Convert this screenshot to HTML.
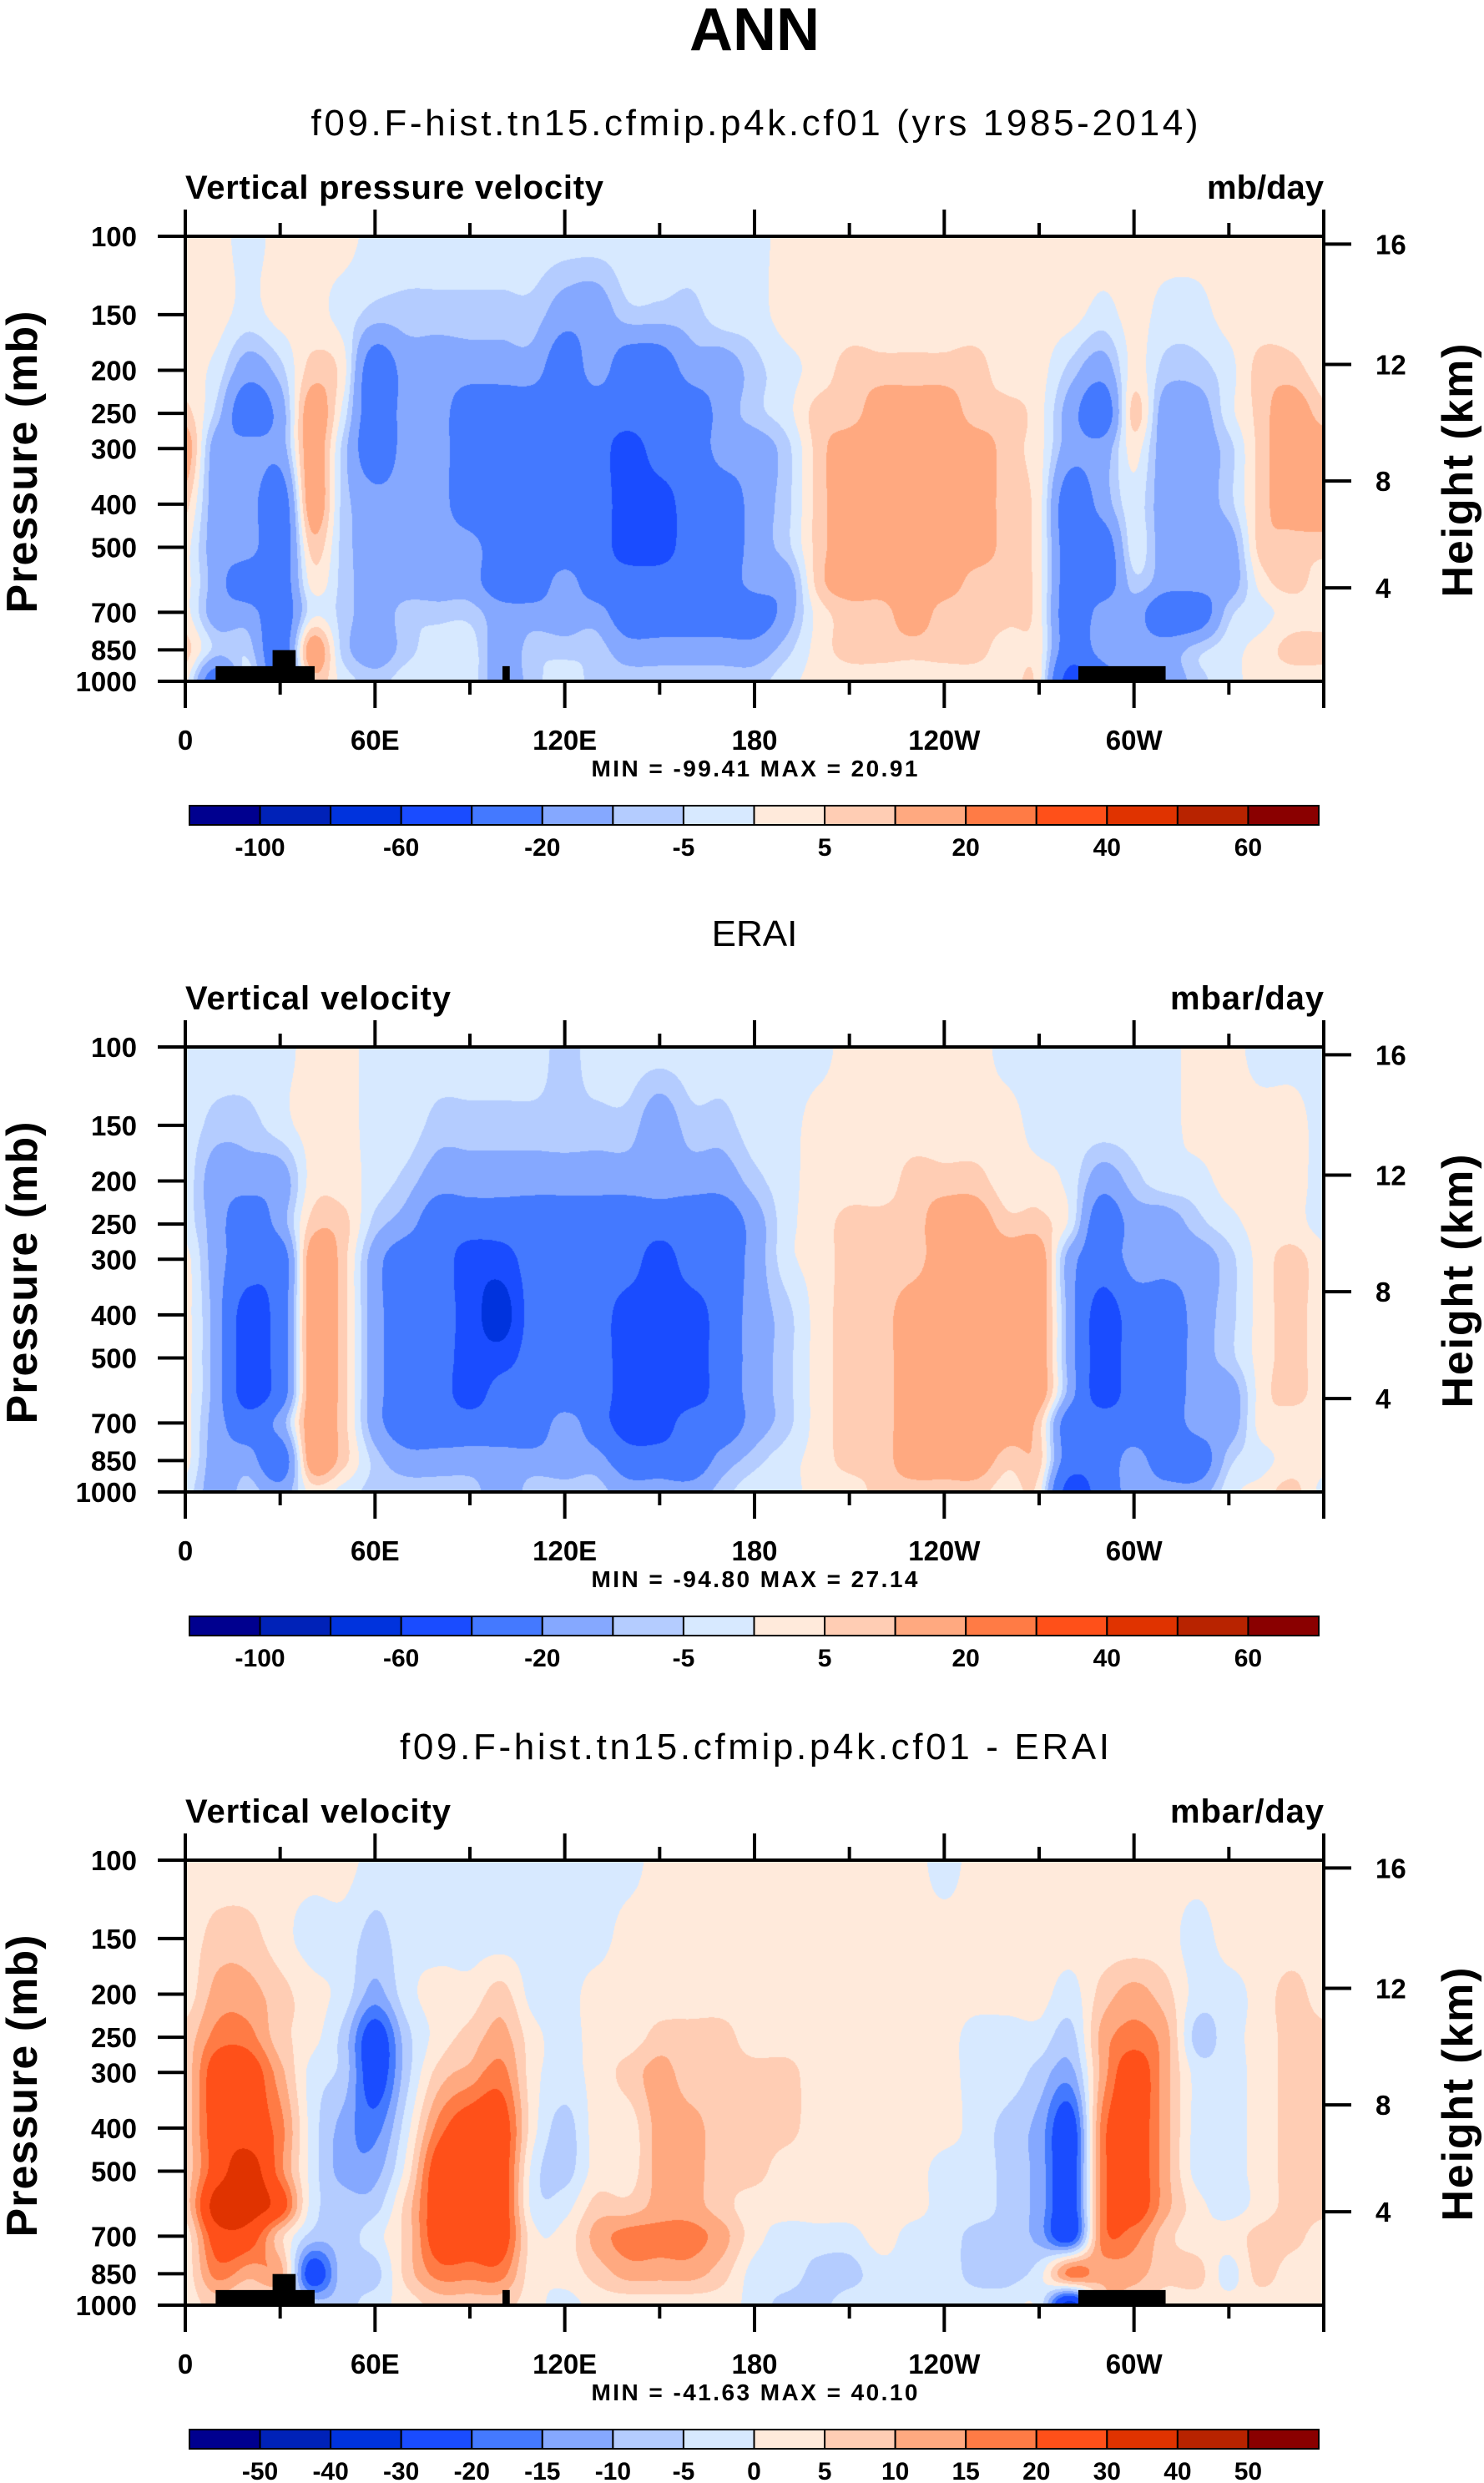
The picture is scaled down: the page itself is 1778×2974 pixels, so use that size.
<!DOCTYPE html>
<html><head><meta charset="utf-8">
<style>
html,body{margin:0;padding:0;background:#fff;}
#wrap{position:relative;width:1778px;height:2974px;overflow:hidden;background:#fff;font-family:"Liberation Sans",sans-serif;}
canvas{position:absolute;}
svg{position:absolute;left:0;top:0;}
</style></head>
<body>
<div id="wrap">
<canvas id="c0" width="1364" height="533" style="left:222px;top:283px"></canvas>
<canvas id="c1" width="1364" height="533" style="left:222px;top:1254px"></canvas>
<canvas id="c2" width="1364" height="533" style="left:222px;top:2228px"></canvas>
<svg id="s" width="1778" height="2974" xmlns="http://www.w3.org/2000/svg"></svg>
</div>
<script>
// ---- data ----
const lons = [0,10,20,30,40,50,60,70,80,90,100,110,120,130,140,150,160,170,180,190,200,210,220,230,240,250,260,270,280,290,300,310,320,330,340,350,360];
const levels = [100,150,200,250,300,400,500,600,700,850,1000];
const pTicks = [100,150,200,250,300,400,500,700,850,1000];
const hTicks = ["16","12","8","4"];
const hTickFrac = [0.0177,0.288,0.55,0.79];
const xTickLabels = ["0","60E","120E","180","120W","60W"];
const xTickLons = [0,60,120,180,240,300];
const colors = ["#00008f","#0022b8","#0033dd","#1a4cff","#4479ff","#85a8ff","#b4ccff","#d7e9ff","#ffeadb","#ffcdb4","#ffa980","#ff7b45","#ff5019","#e03300","#b82300","#8a0000"];
const bounds1 = [-100,-80,-60,-40,-20,-10,-5,0,5,10,20,30,40,50,60];
const cbLabels1 = ["-100","-60","-20","-5","5","20","40","60"];
const bounds3 = [-50,-40,-30,-20,-15,-10,-5,0,5,10,15,20,30,40,50];
const cbLabels3 = ["-50","-40","-30","-20","-15","-10","-5","0","5","10","15","20","30","40","50"];
const landBoxes = [[9.6,40.9,0.966],[27.6,34.9,0.93],[100.3,102.6,0.966],[282.4,310,0.966]];

const modelData = [
[2,2,2,7,15,7,2,2,2,7,2],
[2,2,-2,-7,-15,-15,-15,-15,-15,-7,-30],
[-2,-2,-15,-30,-15,-15,-15,-30,-15,-7,-2],
[2,2,-7,-15,-15,-30,-30,-30,-30,-30,-30],
[2,2,7,15,15,15,7,2,-2,15,7],
[2,-2,2,-2,-7,-7,-7,-7,-7,-7,-2],
[-2,-7,-30,-30,-30,-15,-15,-15,-15,-15,-7],
[-2,-7,-15,-15,-15,-15,-15,-15,-7,-7,-2],
[-2,-7,-15,-15,-15,-15,-15,-15,-7,-2,-2],
[-2,-7,-15,-30,-30,-30,-15,-15,-7,-2,-2],
[-2,-7,-15,-30,-30,-30,-30,-30,-15,-15,-15],
[-2,-7,-15,-30,-30,-30,-30,-30,-15,-7,-7],
[-2,-15,-30,-30,-30,-30,-30,-15,-15,-7,-2],
[-2,-15,-15,-30,-30,-30,-30,-30,-15,-7,-7],
[-2,-7,-30,-30,-50,-50,-50,-30,-30,-15,-7],
[-2,-7,-30,-30,-30,-50,-50,-30,-30,-15,-7],
[-2,-7,-15,-30,-30,-30,-30,-30,-30,-15,-7],
[-2,-2,-15,-15,-15,-30,-30,-30,-30,-15,-7],
[-2,-2,-7,-7,-15,-15,-15,-15,-30,-15,-7],
[2,2,-2,-2,-7,-7,-7,-15,-15,-7,-2],
[2,2,2,7,7,7,7,7,2,2,2],
[2,2,7,7,15,15,15,15,7,7,2],
[2,2,7,15,15,15,15,15,7,7,2],
[2,2,7,15,15,15,15,15,15,7,2],
[2,2,7,15,15,15,15,15,7,7,2],
[2,2,7,7,15,15,15,7,7,7,2],
[2,2,2,7,7,7,7,7,7,2,2],
[2,2,2,2,2,2,2,2,2,2,2],
[2,2,-7,-15,-15,-30,-30,-30,-30,-30,-50],
[2,-2,-15,-30,-15,-15,-30,-30,-15,-15,-30],
[2,2,2,7,2,-2,-2,-7,-15,-15,-7],
[2,-2,-7,-15,-15,-15,-15,-15,-30,-15,-15],
[2,-2,-7,-15,-15,-15,-15,-15,-30,-7,-7],
[2,2,-2,-2,-7,-7,-15,-15,-7,-2,-2],
[2,2,7,7,7,7,7,2,-2,2,2],
[2,2,7,15,15,15,7,7,2,7,2],
[2,2,2,7,15,15,7,2,2,7,2]];

const eraiData = [
[-2,-2,-2,-2,2,2,2,2,2,2,-2],
[-2,-7,-15,-15,-15,-15,-15,-15,-15,-15,-15],
[-2,-7,-15,-30,-30,-50,-50,-50,-30,-15,-7],
[-2,-2,-15,-15,-30,-30,-30,-30,-15,-30,-15],
[2,2,2,7,15,15,15,15,15,15,2],
[2,2,2,7,7,7,7,7,7,7,-2],
[-2,-2,-2,-7,-15,-15,-15,-15,-15,-7,-7],
[-2,-2,-7,-15,-30,-30,-30,-30,-30,-15,-7],
[-2,-7,-15,-30,-30,-30,-30,-30,-30,-15,-7],
[-2,-7,-15,-30,-50,-50,-50,-50,-30,-15,-7],
[-2,-7,-15,-30,-50,-70,-50,-30,-30,-15,-15],
[-2,-7,-15,-30,-30,-30,-30,-30,-30,-15,-7],
[-7,-7,-15,-30,-30,-30,-30,-30,-15,-15,-7],
[-2,-7,-15,-30,-30,-30,-30,-30,-30,-15,-7],
[-2,-7,-15,-30,-30,-50,-50,-50,-50,-30,-15],
[-2,-15,-15,-30,-50,-50,-50,-50,-50,-30,-15],
[-2,-7,-15,-30,-30,-50,-50,-50,-30,-30,-15],
[-2,-7,-15,-30,-30,-30,-30,-30,-30,-15,-7],
[-2,-2,-7,-15,-15,-15,-15,-15,-15,-7,-2],
[-2,-2,-2,-2,-2,-7,-7,-7,-7,-2,-2],
[-2,2,2,2,2,2,2,2,2,2,2],
[2,2,2,7,7,7,7,7,7,7,2],
[2,2,2,7,7,7,7,7,7,7,7],
[2,2,7,7,7,15,15,15,15,15,7],
[2,2,7,15,15,15,15,15,15,15,7],
[2,2,7,15,15,15,15,15,15,15,7],
[-2,2,2,7,15,15,15,15,15,7,2],
[-2,-2,2,7,15,15,15,15,7,7,2],
[-2,-2,-2,-2,-15,-15,-15,-15,-30,-30,-50],
[-2,-2,-15,-30,-30,-50,-50,-50,-30,-30,-30],
[-2,-2,-7,-15,-15,-30,-30,-30,-30,-15,-15],
[-2,-2,-2,-15,-15,-30,-30,-30,-30,-30,-15],
[2,2,-2,-7,-15,-15,-15,-15,-15,-30,-15],
[2,2,2,-2,-7,-7,-7,-15,-15,-7,-2],
[-2,2,2,2,2,2,2,2,2,-2,2],
[-2,2,2,2,7,7,7,7,2,2,7],
[-2,-2,-2,-2,2,2,2,2,2,2,-2]];

const diffData = [
[2,2,2,7,7,7,7,7,2,2,2],
[2,7,12,17,25,25,25,35,25,17,7],
[2,7,12,17,25,25,35,35,25,12,2],
[2,2,7,7,12,17,17,25,7,12,2],
[2,-2,2,2,-2,-2,-2,-2,-7,-25,-7],
[2,-2,-2,-7,-7,-12,-12,-7,-7,-7,-7],
[-2,-7,-12,-25,-25,-17,-12,-7,-2,-7,-2],
[-2,-2,-2,-7,-7,-2,2,7,7,7,2],
[-2,-2,2,2,7,17,25,25,25,17,7],
[-2,-2,2,7,12,25,25,25,25,17,7],
[-2,-2,7,12,17,25,25,25,25,17,7],
[-2,-2,-2,2,2,2,-2,-2,2,2,2],
[-2,-2,-2,-2,-2,-7,-7,-2,2,2,-2],
[-2,-2,2,2,2,2,2,7,12,7,2],
[-2,2,2,2,7,2,2,7,17,12,2],
[2,2,2,7,12,12,12,12,17,12,2],
[2,2,2,7,7,12,12,12,17,12,2],
[2,2,2,7,7,7,7,7,12,7,2],
[2,2,2,2,7,7,7,2,2,-2,-2],
[2,2,2,2,7,7,2,2,-2,-2,-7],
[2,2,2,2,2,2,2,2,-2,-7,-7],
[2,2,2,2,2,2,2,2,-2,-7,-2],
[2,2,2,2,2,2,2,2,2,-2,-2],
[2,2,2,2,2,2,2,2,-2,-2,-2],
[-2,2,2,2,2,2,-2,-2,-2,-2,-2],
[2,2,2,-2,-2,-2,-2,-2,-7,-7,-2],
[2,2,2,-2,-2,-7,-7,-7,-7,-7,-2],
[2,2,2,-2,-7,-12,-12,-12,-12,-2,-2],
[2,2,-2,-7,-12,-25,-25,-25,-25,17,-35],
[2,2,7,12,12,17,17,17,17,12,7],
[2,2,12,17,25,25,25,25,17,12,7],
[2,2,7,12,12,12,12,12,7,7,2],
[2,-2,-2,-7,-2,-2,-2,2,2,7,2],
[2,2,-2,-2,-2,-2,-2,-2,2,-2,2],
[2,2,2,2,2,2,2,2,7,7,2],
[2,2,7,7,7,7,7,7,7,2,2],
[2,2,2,7,7,7,7,7,2,2,2]];

// ---- layout ----
const PL=222, PR=1586, PW=1364, PH=533;
const panelTops=[283,1254,2228];
const offs=[0,971,1945];
const NS="http://www.w3.org/2000/svg";
const svg=document.getElementById('s');
function xScale(lon){return PL+lon/360*PW;}
function pFrac(p){return Math.log10(p/100);}
function hexToRgb(h){return [parseInt(h.slice(1,3),16),parseInt(h.slice(3,5),16),parseInt(h.slice(5,7),16)];}
const rgb=colors.map(hexToRgb);

function cr(p0,p1,p2,p3,t){
  return 0.5*((2*p1)+(-p0+p2)*t+(2*p0-5*p1+4*p2-p3)*t*t+(-p0+3*p1-3*p2+p3)*t*t*t);
}
function drawField(canvasId,data,bounds){
  const c=document.getElementById(canvasId);const ctx=c.getContext('2d');
  const img=ctx.createImageData(PW,PH);
  const levF=levels.map(pFrac);
  const nL=lons.length,nK=levels.length;
  const cl=(a,lo,hi)=>Math.max(lo,Math.min(hi,a));
  for(let y=0;y<PH;y++){
    const f=(y+0.5)/PH;
    let k=0;while(k<nK-2&&f>levF[k+1])k++;
    const t=(f-levF[k])/(levF[k+1]-levF[k]);
    const ks=[cl(k-1,0,nK-1),k,k+1,cl(k+2,0,nK-1)];
    // interpolate each longitude column in level first
    const col=new Array(nL);
    for(let i=0;i<nL;i++){const d=data[i];col[i]=cr(d[ks[0]],d[ks[1]],d[ks[2]],d[ks[3]],t);}
    for(let x=0;x<PW;x++){
      const lon=(x+0.5)/PW*360;
      const li=Math.min(nL-2,Math.floor(lon/10));
      const s=(lon-lons[li])/(lons[li+1]-lons[li]);
      const v=cr(col[cl(li-1,0,nL-1)],col[li],col[li+1],col[cl(li+2,0,nL-1)],s);
      let ci=0;while(ci<bounds.length&&v>=bounds[ci])ci++;
      const c3=rgb[ci];const o=(y*PW+x)*4;
      img.data[o]=c3[0];img.data[o+1]=c3[1];img.data[o+2]=c3[2];img.data[o+3]=255;
    }
  }
  ctx.putImageData(img,0,0);
}
drawField('c0',modelData,bounds1);
drawField('c1',eraiData,bounds1);
drawField('c2',diffData,bounds3);

function el(tag,attrs,parent){const e=document.createElementNS(NS,tag);for(const k in attrs)e.setAttribute(k,attrs[k]);(parent||svg).appendChild(e);return e;}
function txt(str,attrs){const e=el('text',attrs);e.textContent=str;return e;}

// main title
const tAnn=txt("ANN",{x:904,y:60,'text-anchor':'middle','font-size':72,'font-weight':'bold','font-family':'Liberation Sans, sans-serif'});



const panelTitles=["f09.F-hist.tn15.cfmip.p4k.cf01 (yrs 1985-2014)","ERAI","f09.F-hist.tn15.cfmip.p4k.cf01 - ERAI"];
const titleLens=[1063,0,850];
const leftLabels=["Vertical pressure velocity","Vertical velocity","Vertical velocity"];
const leftLens=[501,318,318];
const units=["mb/day","mbar/day","mbar/day"];
const unitLens=[140,184,184];
const minmax=["MIN = -99.41   MAX =  20.91","MIN = -94.80   MAX =  27.14","MIN = -41.63   MAX =  40.10"];

for(let pi=0;pi<3;pi++){
  const T=panelTops[pi],B=T+PH,o=offs[pi];
  const g=el('g',{});
  
  
  const ta={x:904,y:162+o,'text-anchor':'middle','font-size':44,'font-family':'Liberation Sans, sans-serif'};
  if(titleLens[pi])ta.textLength=titleLens[pi];
  const t1=txt(panelTitles[pi],ta);
  
  
  const t2=txt(leftLabels[pi],{x:PL,y:238+o,'font-size':40,'font-weight':'bold',textLength:leftLens[pi],'font-family':'Liberation Sans, sans-serif'});
  
  
  const t3=txt(units[pi],{x:PR,y:238+o,'text-anchor':'end','font-size':40,'font-weight':'bold',textLength:unitLens[pi],'font-family':'Liberation Sans, sans-serif'});
  
  
  if(pi!==1){
    landBoxes.forEach(b=>{
      const r=el('rect',{x:xScale(b[0]),y:T+b[2]*PH,width:xScale(b[1])-xScale(b[0]),height:PH-b[2]*PH,fill:'#000'});
      
      
    });
  }
  const fr=el('rect',{x:PL,y:T,width:PW,height:PH,fill:'none',stroke:'#000','stroke-width':4});
  
  
  pTicks.forEach(p=>{
    const y=T+pFrac(p)*PH;
    el('line',{x1:PL-33,x2:PL,y1:y,y2:y,stroke:'#000','stroke-width':4});
    const l=txt(String(p),{x:164,y:y+12,'text-anchor':'end','font-size':33,'font-weight':'bold','font-family':'Liberation Sans, sans-serif'});
    
    
  });
  hTicks.forEach((h,i)=>{
    const y=T+hTickFrac[i]*PH;
    el('line',{x1:PR,x2:PR+33,y1:y,y2:y,stroke:'#000','stroke-width':4});
    const l=txt(h,{x:1648,y:y+12,'font-size':33,'font-weight':'bold','font-family':'Liberation Sans, sans-serif'});
    
    
  });
  for(let lon=0;lon<=360;lon+=30){
    const x=xScale(lon),len=(lon%60===0)?32:16;
    el('line',{x1:x,x2:x,y1:B,y2:B+len,stroke:'#000','stroke-width':4});
    el('line',{x1:x,x2:x,y1:T,y2:T-len,stroke:'#000','stroke-width':4});
  }
  xTickLabels.forEach((s,i)=>{
    const l=txt(s,{x:xScale(xTickLons[i]),y:898+o,'text-anchor':'middle','font-size':33,'font-weight':'bold','font-family':'Liberation Sans, sans-serif'});
    
    
  });
  const yl=txt("Pressure (mb)",{x:0,y:0,'text-anchor':'middle','font-size':52,'font-weight':'bold',textLength:362,transform:`translate(44,${T+PH/2+4}) rotate(-90)`,'font-family':'Liberation Sans, sans-serif'});
  
  
  const yr=txt("Height (km)",{x:0,y:0,'text-anchor':'middle','font-size':52,'font-weight':'bold',textLength:304,transform:`translate(1764,${T+PH/2+14}) rotate(-90)`,'font-family':'Liberation Sans, sans-serif'});
  
  
  const mm=txt(minmax[pi],{x:904,y:930+o,'text-anchor':'middle','font-size':28,'font-weight':'bold',textLength:391,'xml:space':'preserve','font-family':'Liberation Sans, sans-serif'});
  
  
  const cbL=227,cbR=1580,cbT=965+o,cbH=23,bw=(cbR-cbL)/16;
  colors.forEach((c,i)=>{
    const r=el('rect',{x:cbL+i*bw,y:cbT,width:bw,height:cbH,fill:c,stroke:'#000','stroke-width':2});
    
    
  });
  const labs=pi===2?cbLabels3:cbLabels1;
  labs.forEach((s,i)=>{
    const bi=pi===2?i+1:2*i+1;
    const l=txt(s,{x:cbL+bi*bw,y:1025+o,'text-anchor':'middle','font-size':30,'font-weight':'bold','font-family':'Liberation Sans, sans-serif'});
    
    
  });
}
</script>
</body></html>
